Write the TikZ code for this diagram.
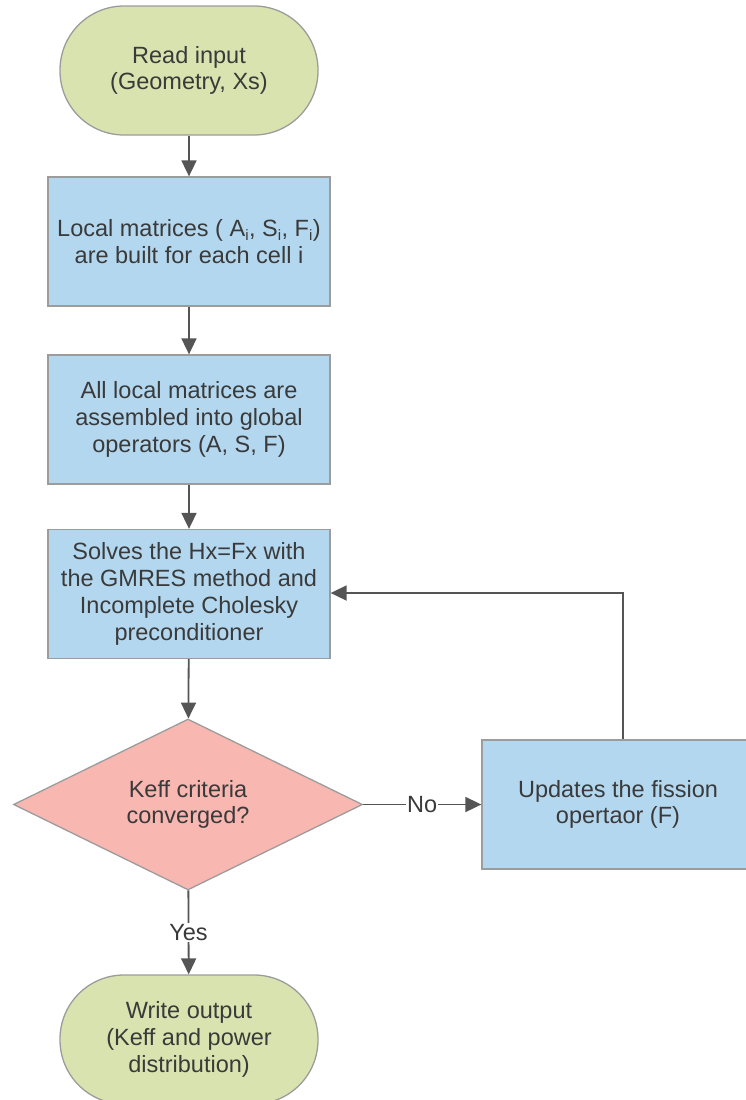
\documentclass[tikz,border=0pt]{standalone}
\usepackage{fontspec}
\setmainfont{Liberation Sans}
\usetikzlibrary{shapes.geometric,arrows.meta}
\definecolor{termfill}{HTML}{D9E3AF}
\definecolor{procfill}{HTML}{B3D7EF}
\definecolor{decfill}{HTML}{F8B7B1}
\definecolor{bordergray}{HTML}{9C9C9C}
\definecolor{linegray}{HTML}{555555}
\definecolor{textgray}{HTML}{3A3A3A}
\newcommand{\sbs}[1]{\textsubscript{\fontsize{15}{15}\selectfont #1}}
\begin{document}
\begin{tikzpicture}[x=1pt,y=-1pt,
  base/.style={draw=bordergray,line width=1.3pt,text=textgray,align=center,
    font=\fontsize{23.5}{26.8}\selectfont,inner sep=1pt},
  term/.style={base,fill=termfill,minimum width=258pt,minimum height=129pt,rounded corners=64pt},
  proc/.style={base,fill=procfill,minimum width=282pt,minimum height=129pt},
  dec/.style={base,diamond,fill=decfill,minimum width=349pt,minimum height=171pt,aspect=2},
  conn/.style={draw=linegray,line width=1.8pt,-{Triangle[width=15pt,length=16pt]}},
  lbl/.style={fill=white,text=textgray,inner sep=1pt,font=\fontsize{23.5}{26}\selectfont}
]
\useasboundingbox (0,0) rectangle (746,1100);
\node[term] (start) at (189,70.5) {Read input\\(Geometry, Xs)};
\node[proc] (local) at (189,241.5) {Local matrices ( A\sbs{i}, S\sbs{i}, F\sbs{i})\\are built for each cell i};
\node[proc] (assem) at (189,419.5) {All local matrices are\\assembled into global\\operators (A, S, F)};
\node[proc] (solve) at (189,594) {Solves the Hx=Fx with\\the GMRES method and\\Incomplete Cholesky\\preconditioner};
\node[dec] (check) at (188,804.5) {Keff criteria\\converged?};
\node[proc,minimum width=272pt] (upd) at (618,804.5) {Updates the fission\\opertaor (F)};
\node[term] (stop) at (189,1039.5) {Write output\\(Keff and power\\distribution)};
\coordinate (corner) at (623,593);
\draw[conn] (start) -- (local);
\draw[conn] (local) -- (assem);
\draw[conn] (assem) -- (solve);
\draw[conn] (solve) -- (check);
\draw[conn] (check) -- node[lbl]{No} (upd);
\draw[conn] (check) -- node[lbl]{Yes} (stop);
\draw[conn] (upd.north -| corner) -- (corner) -- (solve.east |- corner);
\end{tikzpicture}
\end{document}
